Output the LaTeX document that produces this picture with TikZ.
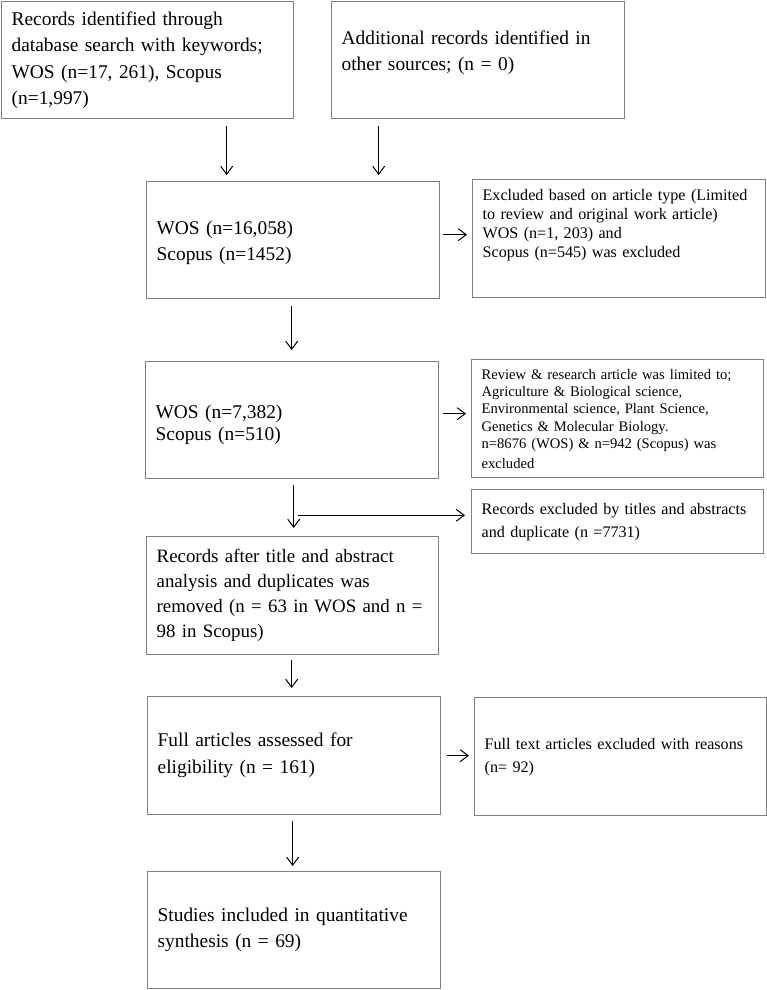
\documentclass[tikz,border=0pt]{standalone}
\usepackage{fontspec}
\setmainfont{Liberation Serif}
\usetikzlibrary{arrows.meta}
\definecolor{boxgray}{RGB}{128,128,128}

\begin{document}
\begin{tikzpicture}
[
    x=1pt, y=-1pt,
    box/.style={draw=boxgray, line width=1.3pt, anchor=north west, inner xsep=10pt, inner ysep=4pt, align=left},
    big/.style={font=\fontsize{19.4}{#1}\selectfont},
    small/.style={font=\fontsize{16.1}{#1}\selectfont},
    tiny/.style={font=\fontsize{14.6}{17.3}\selectfont},
    arr/.style={-{Straight Barb[length=8pt,width=12pt]}, line width=1pt},
]
\useasboundingbox (0,0) rectangle (767,990);

\node[box, big=26.5, text width=272pt, minimum height=117pt] (search) at (1,1)
{Records identified through\\ database search with keywords;\\ WOS (n=17, 261), Scopus\\ (n=1,997)};
\node[box, big=26, text width=273pt, minimum height=117pt, text depth=45pt] (other) at (331,1)
{Additional records identified in\\ other sources; (n = 0)};

\node[box, big=26, text width=273pt, minimum height=117pt, text height=18pt] (screen) at (146,181)
{WOS (n=16,058)\\ Scopus (n=1452)};
\node[box, small=19, text width=273pt, minimum height=118pt, text depth=87pt] (typeout) at (472,179)
{Excluded based on article type (Limited\\ to review and original work article)\\ WOS (n=1, 203) and\\ Scopus (n=545) was excluded};

\node[box, big=22, text width=273pt, minimum height=117pt, text height=22pt] (subject) at (145,361)
{WOS (n=7,382)\\ Scopus (n=510)};
\node[box, tiny, text width=272pt, minimum height=118pt] (areaout) at (471,359)
{Review \& research article was limited to;\\ Agriculture \& Biological science,\\ Environmental science, Plant Science,\\ Genetics \& Molecular Biology.\\ n=8676 (WOS) \& n=942 (Scopus) was\\[2.5pt] excluded};

\node[box, small=23, text width=272pt, minimum height=64pt] (titleout) at (471,489)
{Records excluded by titles and abstracts\\ and duplicate (n =7731)};
\node[box, font=\fontsize{18.9}{25}\selectfont, text width=272pt, minimum height=118pt] (abstract) at (146,536)
{Records after title and abstract\\ analysis and duplicates was\\ removed (n = 63 in WOS and n =\\ 98 in Scopus)};

\node[box, big=27, text width=273pt, minimum height=118pt] (full) at (147,696)
{Full articles assessed for\\ eligibility (n = 161)};
\node[box, small=23, text width=272pt, minimum height=118pt] (fullout) at (474,697)
{Full text articles excluded with reasons\\ (n= 92)};

\node[box, big=26, text width=273pt, minimum height=117pt] (included) at (147,871)
{Studies included in quantitative\\ synthesis (n = 69)};

\draw[arr] ([xshift=79pt,yshift=-7pt]search.south) -- ([xshift=-66.5pt,yshift=6pt]screen.north);
\draw[arr] ([xshift=-99.5pt,yshift=-7pt]other.south) -- ([xshift=85.5pt,yshift=6pt]screen.north);
\draw[arr] ([xshift=3pt,yshift=5.5pt]screen.east) -- ([xshift=-5pt,yshift=4pt]typeout.west);
\draw[arr] ([xshift=-1.5pt,yshift=-7pt]screen.south) -- ([xshift=-0.5pt,yshift=11pt]subject.north);
\draw[arr] ([xshift=4pt,yshift=6.5pt]subject.east) -- ([xshift=-5pt,yshift=5pt]areaout.west);
\draw[arr] ([xshift=1.5pt,yshift=-6pt]subject.south) -- ([xshift=1pt,yshift=8pt]abstract.north);
\coordinate (split) at ([xshift=5.5pt,yshift=-36pt]subject.south);
\draw[arr] (split) -- ([xshift=-6pt]split -| titleout.west);
\draw[arr] ([xshift=-1pt,yshift=-5pt]abstract.south) -- ([xshift=-2.5pt,yshift=8pt]full.north);
\draw[arr] ([xshift=6pt]full.east) -- ([xshift=-5pt,yshift=1pt]fullout.west);
\draw[arr] ([xshift=-1.5pt,yshift=-6pt]full.south) -- ([xshift=-1.5pt,yshift=5pt]included.north);
\end{tikzpicture}
\end{document}
